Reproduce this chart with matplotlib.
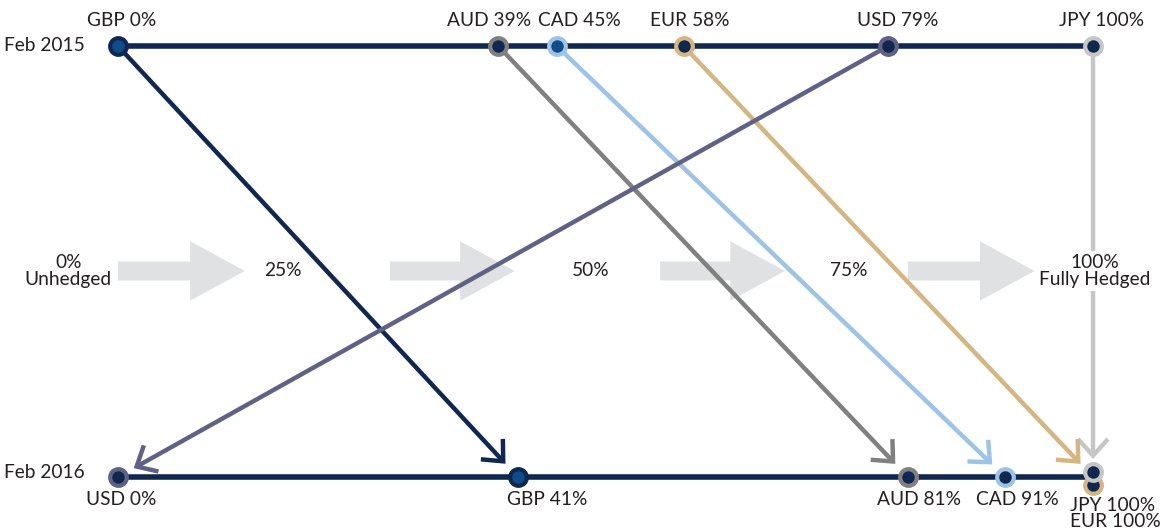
import matplotlib
matplotlib.use("Agg")
import matplotlib.pyplot as plt
from matplotlib.patches import FancyArrowPatch, Polygon

plt.rcParams['font.family'] = ['Lato', 'DejaVu Sans']

# Data: share hedged (%) per currency, Feb 2015 -> Feb 2016
currencies = ['GBP', 'AUD', 'CAD', 'EUR', 'USD', 'JPY']
hedge_2015 = [0, 39, 45, 58, 79, 100]
hedge_2016 = [41, 81, 91, 100, 0, 100]

# Scale labels in the middle
scale_pcts = [0, 25, 50, 75, 100]
scale_texts = ['0%\nUnhedged', '25%', '50%', '75%', '100%\nFully Hedged']

# Styles
navy = '#10284f'
mid_blue = '#0f4c8a'
line_colors = {'GBP': navy, 'AUD': '#808080', 'CAD': '#9dc3e6',
               'EUR': '#d5b583', 'USD': '#5f6284', 'JPY': '#c6c6c6'}
fill_top = {'GBP': mid_blue, 'AUD': navy, 'CAD': mid_blue,
            'EUR': navy, 'USD': navy, 'JPY': navy}
fill_bot = {'GBP': mid_blue, 'AUD': navy, 'CAD': navy,
            'EUR': navy, 'USD': navy, 'JPY': navy}
edge_top = {'GBP': navy}
edge_bot = {'GBP': navy}
text_color = '#231f20'
fs = 13.8

# label offsets (in % units) from the dot
top_label_dx = {'GBP': 0.4, 'AUD': -0.9, 'CAD': 2.3, 'EUR': 0.6, 'USD': 1.0, 'JPY': 0.9}
bot_label_dx = {'GBP': 3.0, 'AUD': 1.2, 'CAD': 1.2, 'USD': 0.3}
bot_dot_dy = {'JPY': 0.012, 'EUR': -0.019}

fig = plt.figure(figsize=(11.6, 5.31), dpi=100)
ax = fig.add_axes([0, 0, 1, 1])
ax.set_xlim(-12.1, 106.87)
ax.set_ylim(-0.1253, 1.1067)
ax.axis('off')

# big grey background arrows
arrow_starts = [0, 27.9, 55.6, 81.0]
arrow_ends = [13.0, 40.7, 68.4, 94.0]
yc, sh, hh, hl = 0.478, 0.022, 0.069, 5.6
for x0, x1 in zip(arrow_starts, arrow_ends):
    pts = [(x0, yc - sh), (x1 - hl, yc - sh), (x1 - hl, yc - hh), (x1, yc),
           (x1 - hl, yc + hh), (x1 - hl, yc + sh), (x0, yc + sh)]
    ax.add_patch(Polygon(pts, closed=True, color='#e0e1e2', lw=0, zorder=1))

# scale labels
scale_x = [-5.1, 16.9, 48.5, 74.9, 100.2]
for x, t in zip(scale_x, scale_texts):
    ax.text(x, yc, t, ha='center', va='center', fontsize=fs, color=text_color,
            linespacing=1.0, zorder=6,
            bbox=dict(facecolor='white', edgecolor='none', pad=2) if '100' in t else None)

# connecting arrows
for c, a, b in zip(currencies, hedge_2015, hedge_2016):
    arr = FancyArrowPatch((a, 1), (b, 0), arrowstyle='->,head_length=1.0,head_width=0.9',
                          mutation_scale=12, color=line_colors[c], lw=3.2,
                          shrinkA=0, shrinkB=13, zorder=3 if c != 'JPY' else 2,
                          joinstyle='miter', capstyle='butt')
    ax.add_patch(arr)

# timeline lines
ax.plot([0, 100], [1, 1], color=navy, lw=4, zorder=4, solid_capstyle='butt')
ax.plot([0, 100], [0, 0], color=navy, lw=4, zorder=4, solid_capstyle='butt')

# dots
for c, a, b in zip(currencies, hedge_2015, hedge_2016):
    ax.plot(a, 1, 'o', ms=12, mew=3, mfc=fill_top[c],
            mec=edge_top.get(c, line_colors[c]), zorder=5)
    ax.plot(b, bot_dot_dy.get(c, 0), 'o', ms=12, mew=3, mfc=fill_bot[c],
            mec=edge_bot.get(c, line_colors[c]), zorder=5 if c != 'EUR' else 4.5)

# top labels
for c, a in zip(currencies, hedge_2015):
    ax.text(a + top_label_dx[c], 1.060, f'{c} {a}%', ha='center', va='center',
            fontsize=fs, color=text_color)

# bottom labels
for c, b in zip(currencies, hedge_2016):
    if c in bot_label_dx:
        ax.text(b + bot_label_dx[c], -0.053, f'{c} {b}%', ha='center', va='center',
                fontsize=fs, color=text_color)
ax.text(97.6, -0.066, 'JPY 100%', ha='left', va='center', fontsize=fs, color=text_color)
ax.text(97.6, -0.104, 'EUR 100%', ha='left', va='center', fontsize=fs, color=text_color)

# dates
ax.text(-3.4, 1.0, 'Feb 2015', ha='right', va='center', fontsize=fs, color=text_color)
ax.text(-3.4, 0.01, 'Feb 2016', ha='right', va='center', fontsize=fs, color=text_color)

fig.savefig('out.png', dpi=100)
